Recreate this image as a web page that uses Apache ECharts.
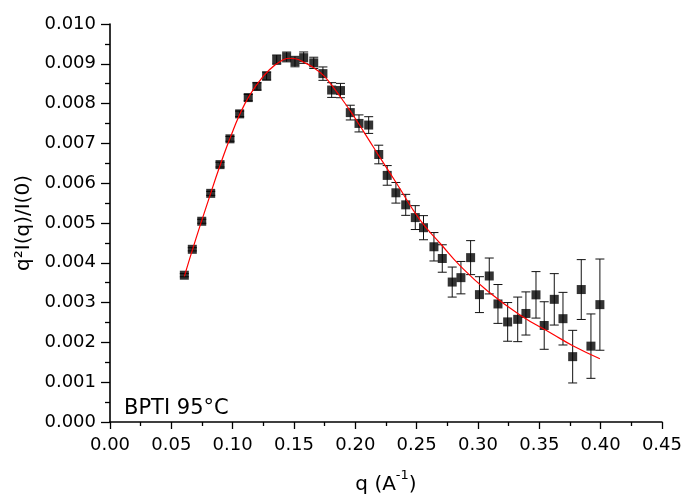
<!DOCTYPE html>
<html>
<head>
<meta charset="utf-8">
<script src="https://cdn.jsdelivr.net/npm/echarts@6/dist/echarts.min.js"></script>
<style>html,body{margin:0;padding:0;background:#fff}#c{width:685px;height:500px}</style>
</head>
<body>
<div id="c"></div>
<script>
// Measured data: q (1/A), q^2 I(q)/I(0), error
var qValues = [0.0606,0.0671,0.0748,0.0821,0.0897,0.0978,0.1057,0.1127,0.1198,0.1277,
  0.1359,0.1440,0.1508,0.1579,0.1661,0.1736,0.1807,0.1879,0.1959,0.2030,
  0.2109,0.2191,0.2260,0.2331,0.2411,0.2489,0.2556,0.2641,0.2709,0.2790,
  0.2861,0.2940,0.3012,0.3092,0.3163,0.3242,0.3324,0.3391,0.3473,0.3540,
  0.3622,0.3693,0.3772,0.3842,0.3921,0.3994];
var intensity = [0.003688,0.004339,0.005044,0.005745,0.006467,0.007115,0.007742,0.008151,0.008432,0.008693,
  0.009105,0.009172,0.009056,0.009154,0.009024,0.008753,0.008341,0.008328,0.007774,0.007502,
  0.007461,0.006721,0.006196,0.005759,0.005456,0.005136,0.004882,0.004403,0.004108,0.003516,
  0.003627,0.004130,0.003200,0.003669,0.002966,0.002515,0.002579,0.002727,0.003195,0.002424,
  0.003082,0.002596,0.001642,0.003328,0.001906,0.002949];
var errors = [0.00004,0.00004,0.00005,0.00005,0.00006,0.00006,0.00007,0.00008,0.00009,0.00010,
  0.000116,0.000123,0.000131,0.000143,0.000141,0.000168,0.000185,0.000180,0.000185,0.000214,
  0.000210,0.000234,0.000247,0.000259,0.000264,0.000300,0.000303,0.000357,0.000345,0.000377,
  0.000407,0.000427,0.000451,0.000451,0.000488,0.000486,0.000560,0.000542,0.000584,0.000597,
  0.000646,0.000661,0.000661,0.000752,0.000809,0.001146];
// Fitted curve
var fitQ = [0.0606,0.0700,0.0800,0.0900,0.1000,0.1100,0.1200,0.1300,0.1400,0.1460,0.1520,0.1580,
  0.1660,0.1740,0.1810,0.1880,0.1960,0.2030,0.2100,0.2200,0.2340,0.2527,0.2700,0.2853,0.3071,
  0.3342,0.3614,0.3777,0.3994];
var fitI = [0.00366,0.00460,0.00555,0.00647,0.00730,0.00800,0.00849,0.00885,0.00908,0.00914,0.00912,0.00904,
  0.00890,0.00871,0.00845,0.00816,0.00781,0.00748,0.00714,0.00665,0.00598,0.00508,0.00446,0.00393,0.00331,
  0.00269,0.00220,0.00191,0.00159];
var annotation = 'BPTI 95°C';

var FONT = 'DejaVu Sans';
var points = qValues.map(function(q,i){return [q,intensity[i]];});
var errData = qValues.map(function(q,i){return [q,intensity[i]-errors[i],intensity[i]+errors[i]];});
var fitData = fitQ.map(function(q,i){return [q,fitI[i]];});

var chart = echarts.init(document.getElementById('c'), null, {renderer:'canvas'});
chart.setOption({
  animation:false,
  backgroundColor:'#fff',
  grid:{left:110,right:23,top:24,bottom:71,containLabel:false},
  xAxis:{
    type:'value',min:0,max:0.45,interval:0.05,
    name:'{a|q (A}{b|-1}{a|)}',nameLocation:'middle',nameGap:47,
    nameTextStyle:{rich:{a:{fontFamily:FONT,fontSize:20,color:'#000',lineHeight:26,verticalAlign:'bottom'},
                         b:{fontFamily:FONT,fontSize:13,color:'#000',lineHeight:26,verticalAlign:'top'}}},
    axisLine:{show:true,onZero:false,lineStyle:{color:'#000',width:1.6}},
    axisTick:{show:true,inside:false,length:7,lineStyle:{color:'#000',width:1.3}},
    minorTick:{show:true,splitNumber:2,length:4,lineStyle:{color:'#000',width:1.3}},
    splitLine:{show:false},
    axisLabel:{fontFamily:FONT,fontSize:18,color:'#000',margin:14,
      formatter:function(v){return v.toFixed(2);}}
  },
  yAxis:{
    type:'value',min:0,max:0.010,interval:0.001,
    name:'q²I(q)/I(0)',nameLocation:'middle',nameGap:72,nameRotate:90,
    nameTextStyle:{fontFamily:FONT,fontSize:20,color:'#000'},
    axisLine:{show:true,onZero:false,lineStyle:{color:'#000',width:1.6}},
    axisTick:{show:true,inside:false,length:9,lineStyle:{color:'#000',width:1.3}},
    minorTick:{show:true,splitNumber:2,length:5,lineStyle:{color:'#000',width:1.3}},
    splitLine:{show:false},
    axisLabel:{fontFamily:FONT,fontSize:18,color:'#000',margin:14,
      formatter:function(v){return v.toFixed(3);}}
  },
  graphic:[{type:'text',left:124,top:398,style:{text:annotation,font:'21px "DejaVu Sans"',fill:'#000'}}],
  series:[
    {
      type:'custom',name:'err',data:errData,z:2,
      renderItem:function(params,api){
        var x=api.value(0);
        var lo=api.coord([x,api.value(1)]);
        var hi=api.coord([x,api.value(2)]);
        var w=4.5;
        var st={stroke:'#111',lineWidth:1};
        return {type:'group',children:[
          {type:'line',shape:{x1:lo[0],y1:lo[1],x2:hi[0],y2:hi[1]},style:st},
          {type:'line',shape:{x1:lo[0]-w,y1:lo[1],x2:lo[0]+w,y2:lo[1]},style:st},
          {type:'line',shape:{x1:hi[0]-w,y1:hi[1],x2:hi[0]+w,y2:hi[1]},style:st}
        ]};
      }
    },
    {type:'scatter',name:'data',data:points,symbol:'rect',symbolSize:9,
      itemStyle:{color:'#000'},z:3},
    {type:'line',name:'fit',data:fitData,smooth:true,showSymbol:false,symbol:'none',
      lineStyle:{color:'#ff0000',width:1.2},z:4}
  ]
});
</script>
</body>
</html>
